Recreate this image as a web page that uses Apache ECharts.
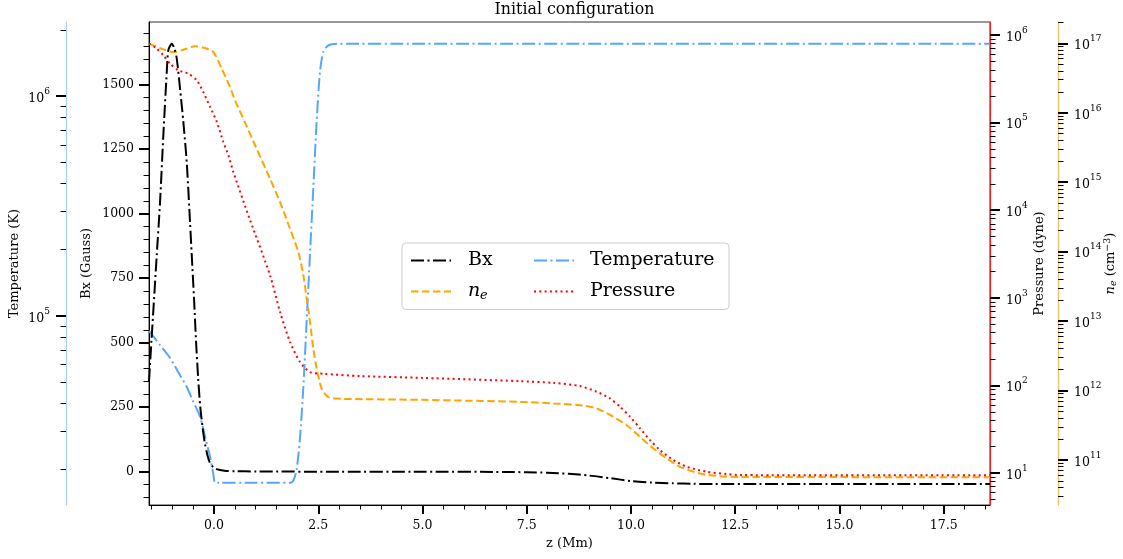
<!DOCTYPE html>
<html><head><meta charset="utf-8">
<script src="https://cdn.jsdelivr.net/npm/echarts@6/dist/echarts.min.js"></script>
<style>html,body{margin:0;padding:0;background:#fff}#c{width:1123px;height:559px}</style>
</head><body><div id="c"></div>
<script>
// ---- data ----
const bxZ   = [-1.56, -1.5, -1.45, -1.374, -1.295, -1.216, -1.134, -1.096, -1.014, -0.95, -0.894, -0.815, -0.736, -0.655, -0.576, -0.535, -0.48, -0.43, -0.38, -0.33, -0.27, -0.22, -0.16, -0.1, -0.02, 0.06, 0.25, 0.5, 1.0, 3.0, 5.0, 7.0, 7.5, 8.0, 8.5, 9.0, 9.5, 10.0, 10.5, 11.0, 11.5, 12.0, 13.0, 18.61];
const bxVal = [350, 510, 640, 840, 1045, 1305, 1549, 1634, 1659, 1640, 1601, 1484, 1355, 1200, 967, 840, 670, 500, 360, 250, 165, 110, 65, 35, 18, 10, 4, 2, 1, 0, 0, -1, -2, -4, -8, -15, -25, -36, -42, -45, -47, -47.5, -48, -48];

const tZ   = [-1.56, -1.3, -1.055, -0.85, -0.655, -0.5, -0.336, -0.2, -0.096, -0.02, 0.024, 0.1, 1.0, 1.82, 1.90, 1.98, 2.06, 2.14, 2.22, 2.30, 2.38, 2.46, 2.54, 2.62, 2.74, 2.94, 5, 10, 18.61];
const tVal = [8.55e4, 7.38e4, 6.44e4, 5.51e4, 4.75e4, 4.08e4, 3.48e4, 2.74e4, 2.29e4, 1.92e4, 1.74e4, 1.74e4, 1.74e4, 1.74e4, 1.78e4, 2.0e4, 2.77e4, 4.68e4, 9.4e4, 1.89e5, 3.79e5, 7.62e5, 1.285e6, 1.585e6, 1.70e6, 1.73e6, 1.73e6, 1.73e6, 1.73e6];

const neZ   = [-1.56, -1.254, -0.976, -0.775, -0.456, -0.216, -0.017, 0.185, 0.384, 0.504, 0.75, 1.0, 1.343, 1.583, 1.823, 2.022, 2.142, 2.223, 2.302, 2.381, 2.463, 2.583, 2.741, 3.1, 5.0, 7.338, 8.137, 8.777, 9.177, 9.576, 9.897, 10.216, 10.535, 10.856, 11.175, 11.655, 12.134, 12.614, 18.61];
const neVal = [9.89e16, 8.36e16, 7.50e16, 7.93e16, 9.06e16, 8.55e16, 7.50e16, 4.31e16, 2.34e16, 1.51e16, 7.08e15, 3.24e15, 1.12e15, 5.16e14, 2.13e14, 9.84e13, 4.54e13, 2.09e13, 9.64e12, 3.97e12, 2.05e12, 1.05e12, 8.0e11, 7.57e11, 7.33e11, 6.85e11, 6.50e11, 6.14e11, 5.51e11, 4.17e11, 3.16e11, 2.14e11, 1.46e11, 1.05e11, 7.93e10, 6.37e10, 5.82e10, 5.69e10, 5.62e10];

const pZ   = [-1.56, -1.374, -1.216, -1.055, -0.856, -0.616, -0.415, -0.257, -0.096, 0.065, 0.223, 0.343, 0.463, 0.863, 1.343, 1.583, 1.823, 2.062, 2.302, 2.621, 3.5, 5.0, 7.338, 8.137, 8.777, 9.177, 9.496, 9.736, 9.976, 10.216, 10.456, 10.695, 11.014, 11.336, 11.815, 12.295, 12.614, 18.61];
const pVal = [8.04e5, 6.98e5, 5.86e5, 4.70e5, 3.95e5, 3.61e5, 3.04e5, 2.23e5, 1.51e5, 1.02e5, 6.01e4, 4.24e4, 2.73e4, 7.73e3, 1.81e3, 689, 313, 185, 142, 136, 128, 122, 112, 107, 98.4, 84.7, 71.3, 57.1, 44.0, 32.4, 23.8, 18.3, 14.1, 11.8, 10.35, 9.75, 9.48, 9.44];

// ---- ticks ----
const xTicks  = [0, 2.5, 5, 7.5, 10, 12.5, 15, 17.5];
const xMinor  = [-1.5, -1, -0.5, 0.5, 1, 1.5, 2, 3, 3.5, 4, 4.5, 5.5, 6, 6.5, 7, 8, 8.5, 9, 9.5, 10.5, 11, 11.5, 12, 13, 13.5, 14, 14.5, 15.5, 16, 16.5, 17, 18, 18.5];
const bxTicks = [0, 250, 500, 750, 1000, 1250, 1500];
const bxMinor = [-100, -50, 50, 100, 150, 200, 300, 350, 400, 450, 550, 600, 650, 700, 800, 850, 900, 950, 1050, 1100, 1150, 1200, 1300, 1350, 1400, 1450, 1550, 1600, 1650, 1700];
const tTicks  = [1e5, 1e6];
const pTicks  = [1e1, 1e2, 1e3, 1e4, 1e5, 1e6];
const neTicks = [1e11, 1e12, 1e13, 1e14, 1e15, 1e16, 1e17];
const legendNames = ['Bx', 'Temperature', 'n_e', 'Pressure'];

function logMinors(lo, hi) {
  const out = [];
  for (let k = Math.floor(Math.log10(lo)); k <= Math.ceil(Math.log10(hi)); k++) {
    for (let m = 2; m <= 9; m++) { const v = m * Math.pow(10, k); if (v >= lo && v <= hi) out.push(v); }
  }
  return out;
}
const zip = (a, b) => a.map((v, i) => [v, b[i]]);

const F = 'DejaVu Serif';
const FS = 12.5;
const NFS = 13;
const supRich = {
  b: { fontFamily: F, fontSize: FS, color: '#000', lineHeight: 18, verticalAlign: 'bottom' },
  s: { fontFamily: F, fontSize: 9, color: '#000', lineHeight: 11, verticalAlign: 'top' }
};
const supFmt = v => '{b|10}{s|' + Math.round(Math.log10(v)) + '}';

const TMIN = 1.38e4, TMAX = 2.17e6;
const PMIN = 4.32, PMAX = 1.406e6;
const NMIN = 2.24e10, NMAX = 2.03e17;
const BMIN = -129, BMAX = 1743;

function hiddenAx(o) {
  return Object.assign({ splitLine: { show: false }, axisLine: { show: false, onZero: false },
    axisTick: { show: false }, axisLabel: { show: false }, nameMoveOverlap: false }, o);
}
function logMajor(o, ticks, color, name, gap) {
  return hiddenAx(Object.assign({
    type: 'log', logBase: 10,
    name: name, nameLocation: 'middle', nameGap: gap,
    nameTextStyle: { fontFamily: F, fontSize: NFS, color: '#000' },
    axisLine: { show: true, onZero: false, lineStyle: { color: color, width: 1.2 } },
    axisTick: { show: true, customValues: ticks, length: 10, lineStyle: { color: '#000', width: 2 } },
    axisLabel: { show: true, customValues: ticks, margin: 16, formatter: supFmt, rich: supRich }
  }, o));
}
function logMinor(o, lo, hi) {
  return hiddenAx(Object.assign({
    type: 'log', logBase: 10,
    axisTick: { show: true, customValues: logMinors(lo, hi), length: 5.5, lineStyle: { color: '#000', width: 1 } }
  }, o));
}

const yAxis = [
  hiddenAx({ type: 'value', position: 'left', offset: 0, min: BMIN, max: BMAX,
    name: 'Bx (Gauss)', nameLocation: 'middle', nameGap: 56,
    nameTextStyle: { fontFamily: F, fontSize: NFS, color: '#000' },
    axisLine: { show: true, onZero: false, lineStyle: { color: '#000', width: 1 } },
    axisTick: { show: true, customValues: bxTicks, length: 10, lineStyle: { color: '#000', width: 2 } },
    axisLabel: { show: true, customValues: bxTicks, margin: 15, fontFamily: F, fontSize: FS, color: '#000',
      formatter: v => String(Math.round(v)) } }),
  hiddenAx({ type: 'value', position: 'left', offset: 0, min: BMIN, max: BMAX,
    axisTick: { show: true, customValues: bxMinor, length: 5.5, lineStyle: { color: '#000', width: 1 } } }),
  logMajor({ position: 'left', offset: 83, min: TMIN, max: TMAX }, tTicks, '#a6cdf6', 'Temperature (K)', 45),
  logMinor({ position: 'left', offset: 83, min: TMIN, max: TMAX }, TMIN, TMAX),
  logMajor({ position: 'right', offset: 0, min: PMIN, max: PMAX }, pTicks, '#e8262a', 'Pressure (dyne)', 43),
  logMinor({ position: 'right', offset: 0, min: PMIN, max: PMAX }, PMIN, PMAX),
  logMajor({ position: 'right', offset: 68, min: NMIN, max: NMAX }, neTicks, '#f6bd62', '{i|n}{e|e} (cm{u|\u22123})', 45),
  logMinor({ position: 'right', offset: 68, min: NMIN, max: NMAX }, NMIN, NMAX)
];
yAxis[6].nameTextStyle.rich = {
  i: { fontFamily: F, fontSize: NFS, fontStyle: 'italic', color: '#000', lineHeight: 16 },
  e: { fontFamily: F, fontSize: 9.5, fontStyle: 'italic', color: '#000', lineHeight: 10, verticalAlign: 'bottom' },
  u: { fontFamily: F, fontSize: 9.5, color: '#000', lineHeight: 10, verticalAlign: 'top' }
};
yAxis[6].nameTextStyle.lineHeight = 16;

const XMIN = -1.56, XMAX = 18.61;
const xAxis = [
  hiddenAx({ type: 'value', position: 'bottom', min: XMIN, max: XMAX,
    name: 'z (Mm)', nameLocation: 'middle', nameGap: 32,
    nameTextStyle: { fontFamily: F, fontSize: NFS, color: '#000' },
    axisLine: { show: true, onZero: false, lineStyle: { color: '#000', width: 1 } },
    axisTick: { show: true, customValues: xTicks, length: 9, lineStyle: { color: '#000', width: 2 } },
    axisLabel: { show: true, customValues: xTicks, margin: 14, fontFamily: F, fontSize: FS, color: '#000',
      formatter: v => v.toFixed(1) } }),
  hiddenAx({ type: 'value', position: 'bottom', min: XMIN, max: XMAX,
    axisTick: { show: true, customValues: xMinor, length: 4.5, lineStyle: { color: '#000', width: 1 } } })
];

function lineSeries(name, data, yIdx, color, dash, z) {
  return { name: name, type: 'line', xAxisIndex: 0, yAxisIndex: yIdx, data: data,
    symbol: 'none', showSymbol: false, smooth: 0.25, z: z,
    lineStyle: { color: color, width: 2, type: dash, cap: 'butt' },
    itemStyle: { color: color } };
}

const option = {
  animation: false,
  backgroundColor: '#fff',
  title: { text: 'Initial configuration', left: 569.5, textAlign: 'center', top: -3,
    textStyle: { fontFamily: F, fontSize: 15.8, fontWeight: 'normal', color: '#000' } },
  grid: { left: 149, right: 133, top: 22, bottom: 54, containLabel: false, outerBoundsMode: 'none',
    show: true, borderColor: '#333', borderWidth: 1, backgroundColor: 'transparent' },
  xAxis: xAxis,
  yAxis: yAxis,
  legend: {
    data: legendNames, selectedMode: false,
    left: 402, top: 243, width: 360, orient: 'horizontal',
    padding: [8, 7, 7, 8], itemGap: 12, itemWidth: 40, itemHeight: 14,
    borderColor: '#cccccc', borderWidth: 1, borderRadius: 4, backgroundColor: 'rgba(255,255,255,0.85)',
    itemStyle: { opacity: 0 },
    textStyle: { fontFamily: F, fontSize: 19, color: '#000',
      rich: {
        c1: { fontFamily: F, fontSize: 19, color: '#000', width: 53, padding: [0, 0, 0, 12], lineHeight: 22 },
        c1n: { fontFamily: F, fontSize: 19, fontStyle: 'italic', color: '#000', width: 12, padding: [0, 0, 0, 12], lineHeight: 22 },
        c1e: { fontFamily: F, fontSize: 13, fontStyle: 'italic', color: '#000', width: 41, lineHeight: 14, verticalAlign: 'bottom' },
        c2: { fontFamily: F, fontSize: 19, color: '#000', width: 132, padding: [0, 0, 0, 11], lineHeight: 22 }
      } },
    formatter: n => n === 'Bx' ? '{c1|Bx}' : (n === 'n_e' ? '{c1n|n}{c1e|e}' : '{c2|' + n + '}')
  },
  series: [
    lineSeries('Bx', zip(bxZ, bxVal), 0, '#000000', [13, 3.5, 2, 3.5], 5),
    lineSeries('n_e', zip(neZ, neVal), 6, '#ffa500', [7.5, 3.5], 4),
    lineSeries('Temperature', zip(tZ, tVal), 2, '#55a6ff', [13, 3.5, 2, 3.5], 3),
    lineSeries('Pressure', zip(pZ, pVal), 4, '#ff0000', [2, 3.3], 6)
  ]
};

const chart = echarts.init(document.getElementById('c'), null, { renderer: 'canvas' });
chart.setOption(option);
</script>
</body></html>
